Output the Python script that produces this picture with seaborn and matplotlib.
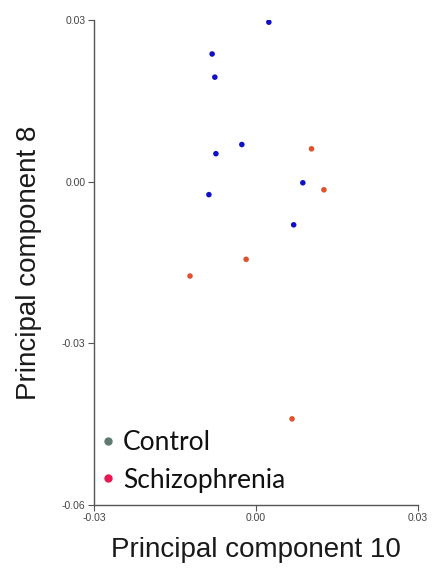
import matplotlib
matplotlib.use("Agg")
import matplotlib.pyplot as plt
from matplotlib.lines import Line2D
import seaborn as sns
import pandas as pd

# Data
control_pc10 = [0.0024, -0.0081, -0.0076, -0.0026, -0.0074, 0.0087, -0.0087, 0.0070]
control_pc8 = [0.0296, 0.0237, 0.0194, 0.0069, 0.0052, -0.0002, -0.0024, -0.0080]
schizo_pc10 = [0.0103, 0.0126, -0.0018, -0.0122, 0.0067]
schizo_pc8 = [0.0061, -0.0015, -0.0144, -0.0175, -0.0440]
groups = ["Control", "Schizophrenia"]
x_ticks = [-0.03, 0.00, 0.03]
y_ticks = [-0.06, -0.03, 0.00, 0.03]

df = pd.DataFrame({
    "pc10": control_pc10 + schizo_pc10,
    "pc8": control_pc8 + schizo_pc8,
    "group": [groups[0]] * len(control_pc10) + [groups[1]] * len(schizo_pc10),
})

sns.set_style("white")
plt.rcParams["font.family"] = ["Liberation Sans", "DejaVu Sans"]

fig = plt.figure(figsize=(4.45, 5.72), dpi=100)
ax = fig.add_axes([0.211, 0.117, 0.728, 0.848])

sns.scatterplot(data=df, x="pc10", y="pc8", hue="group",
                palette={"Control": "#1010C8", "Schizophrenia": "#E0522E"},
                s=16, linewidth=0, legend=False, ax=ax)

ax.set_xlim(-0.03, 0.03)
ax.set_ylim(-0.06, 0.03)
ax.set_xticks(x_ticks)
ax.set_yticks(y_ticks)
ax.set_xticklabels([f"{t:.2f}" for t in x_ticks])
ax.set_yticklabels([f"{t:.2f}" for t in y_ticks])
ax.tick_params(axis="both", which="both", direction="out", length=4, width=0.8,
               color="#555555", labelsize=7.5, labelcolor="#444444", pad=2,
               bottom=True, left=True)
for side in ["top", "right"]:
    ax.spines[side].set_visible(False)
for side in ["left", "bottom"]:
    ax.spines[side].set_color("#555555")
    ax.spines[side].set_linewidth(1.0)

ax.set_xlabel("Principal component 10", fontsize=20, color="#1a1a1a", labelpad=10)
ax.set_ylabel("Principal component 8", fontsize=20, color="#1a1a1a", labelpad=14)

handles = [
    Line2D([], [], marker="o", linestyle="", markersize=5, color="#5F7A72"),
    Line2D([], [], marker="o", linestyle="", markersize=5, color="#E8174F"),
]
leg = ax.legend(handles, groups, loc="lower left", bbox_to_anchor=(0.0, 0.015),
                frameon=False, handletextpad=0.2, labelspacing=0.48,
                handlelength=0.7, borderaxespad=0.0, borderpad=0.2,
                prop={"family": "Lato", "size": 19})
for t in leg.get_texts():
    t.set_color("#111111")

fig.savefig("out.png", dpi=100)
